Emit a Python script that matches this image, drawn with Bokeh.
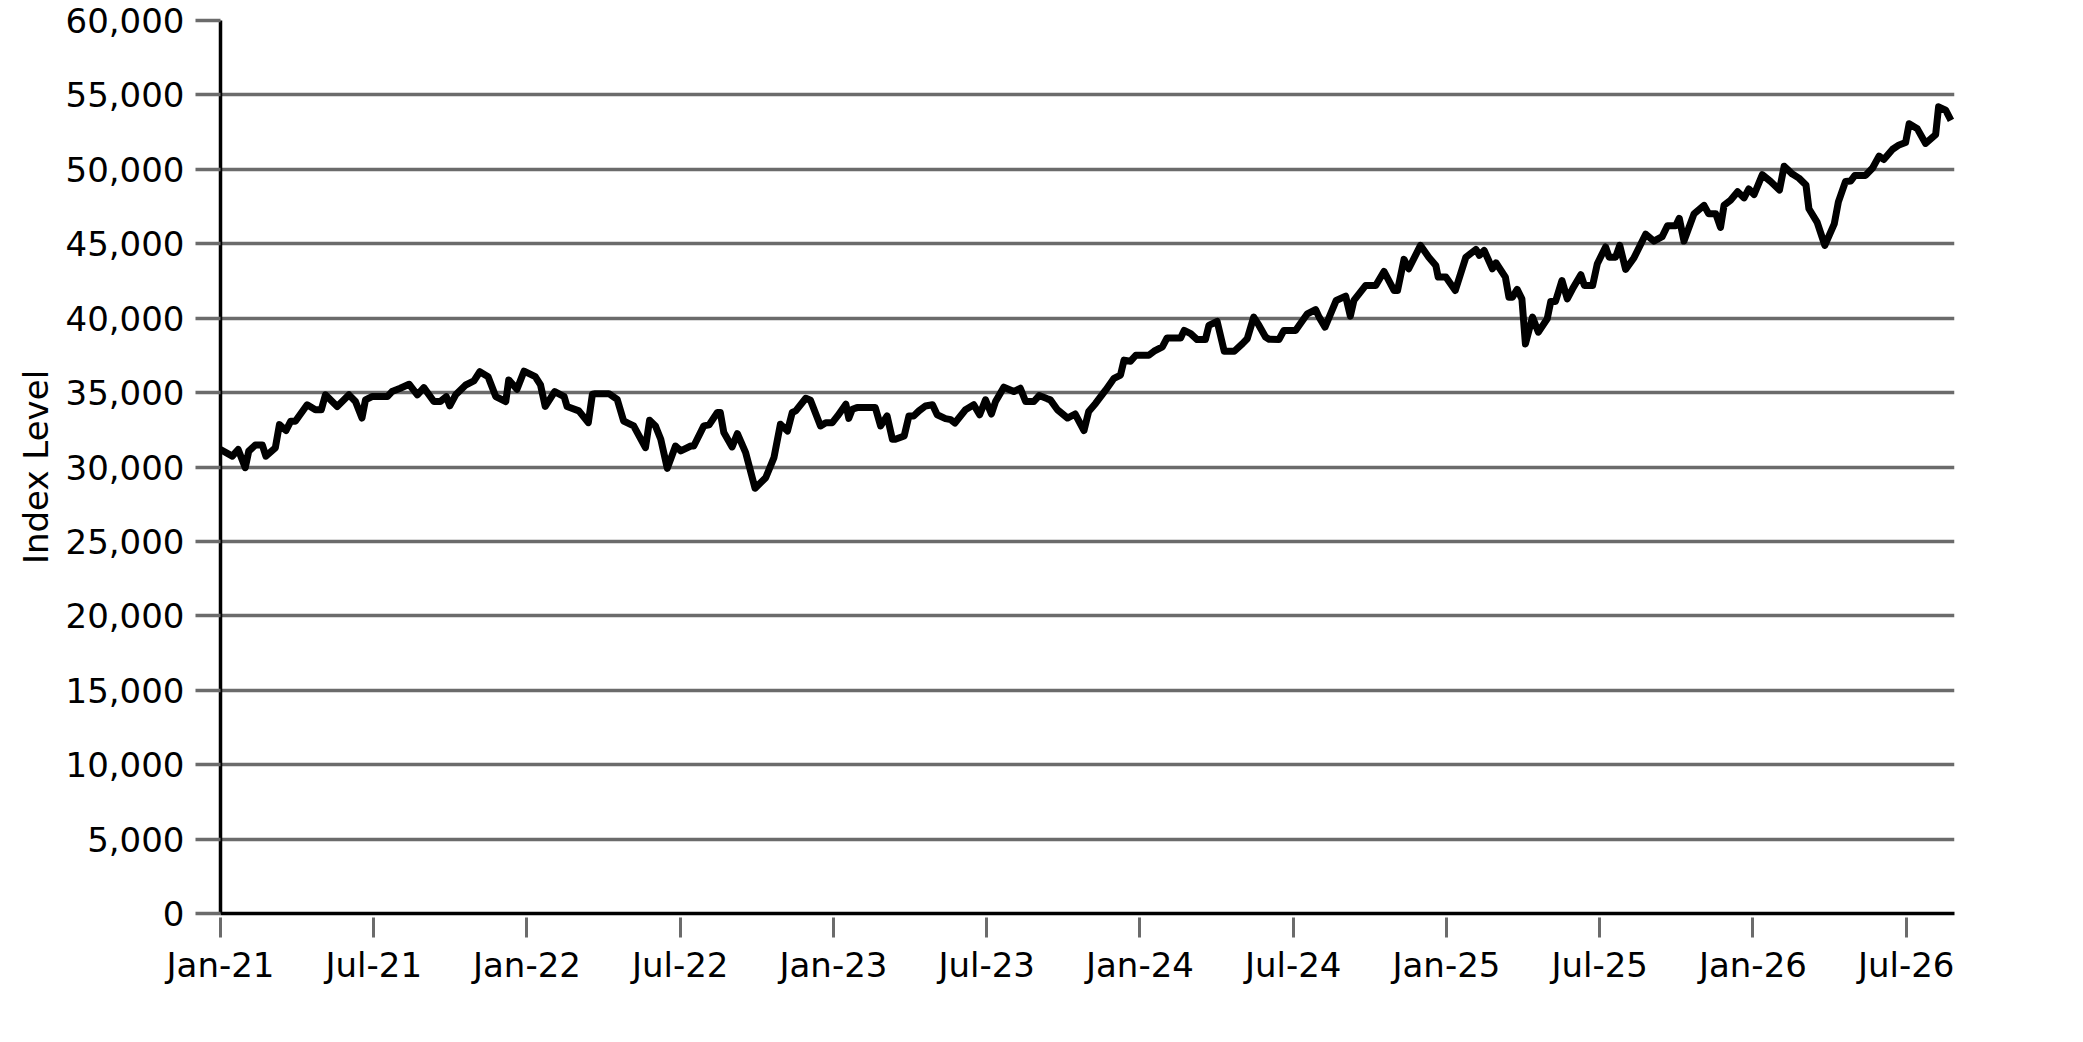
from bokeh.plotting import figure
from bokeh.models import Range1d, FixedTicker, NumeralTickFormatter
from bokeh.embed import file_html
from bokeh.resources import INLINE

# weekly index position (weeks since first observation) and index level
week = [0.0, 2.0, 3.0, 4.2, 4.8, 5.9, 7.1, 7.7, 9.3, 10.0, 11.1, 11.9, 12.7, 14.7, 16.1, 17.1,
        17.8, 19.8, 21.8, 22.9, 24.0, 24.6, 25.7, 28.3, 29.1, 30.5, 32.0, 33.4, 34.5, 36.2,
        37.3, 38.3, 38.9, 39.9, 41.6, 43.0, 44.0, 45.4, 46.7, 48.4, 48.9, 50.3, 51.5, 53.4,
        54.3, 55.1, 56.7, 58.3, 58.8, 60.8, 62.4, 63.1, 63.6, 65.9, 67.3, 68.4, 69.3, 70.1,
        72.1, 72.8, 73.8, 74.7, 75.8, 77.2, 78.1, 79.8, 80.3, 82.0, 82.9, 84.3, 84.8, 85.4,
        86.8, 87.7, 89.1, 90.7, 92.5, 93.9, 95.0, 96.2, 97.0, 97.6, 99.3, 100.1, 101.8, 102.7,
        103.8, 104.7, 106.1, 106.6, 107.2, 108.0, 111.1, 112.0, 113.1, 114.0, 114.5, 116.0,
        116.8, 117.6, 118.5, 119.6, 120.8, 121.6, 123.0, 123.9, 124.6, 126.4, 127.8, 128.8,
        129.8, 130.8, 131.5, 132.9, 134.6, 135.7, 136.6, 138.0, 138.9, 140.3, 140.8, 142.0,
        143.7, 145.0, 146.5, 147.3, 148.5, 150.2, 151.6, 152.7, 153.3, 154.4, 155.3, 157.5,
        158.4, 159.8, 160.6, 162.9, 163.5, 164.6, 165.7, 167.1, 167.7, 169.1, 170.3, 172.0,
        173.4, 174.2, 175.3, 176.2, 177.3, 177.9, 179.6, 180.4, 182.4, 184.4, 185.8, 186.4,
        187.4, 189.3, 190.9, 191.7, 192.3, 194.3, 196.0, 197.4, 199.1, 199.7, 200.8, 201.6,
        203.6, 205.0, 206.2, 206.6, 207.9, 209.5, 211.3, 213.0, 213.6, 214.4, 215.8, 216.4,
        218.0, 218.6, 219.2, 220.0, 220.8, 221.4, 222.6, 223.6, 225.1, 225.7, 226.5, 227.6,
        228.5, 229.4, 230.8, 231.4, 232.8, 233.6, 235.0, 235.6, 236.7, 237.4, 238.4, 239.8,
        241.8, 243.2, 244.6, 245.5, 246.9, 247.5, 248.3, 250.0, 251.7, 252.5, 253.7, 254.5,
        255.1, 256.2, 257.4, 258.5, 259.3, 260.2, 261.6, 263.0, 264.5, 265.3, 266.7, 267.8,
        269.0, 269.5, 270.9, 272.2, 273.8, 274.5, 275.7, 276.6, 277.3, 279.1, 280.3, 281.4,
        282.2, 283.7, 284.8, 285.9, 286.5, 287.9, 289.3, 291.0, 291.5, 292.7, 293.6]

index_level = [31180, 30730, 31180, 29950, 31070, 31470, 31470, 30730, 31290, 32850, 32450, 33070,
               33070, 34180, 33850, 33850, 34850, 34070, 34850, 34400, 33290, 34510, 34730, 34730,
               35070, 35290, 35560, 34850, 35330, 34400, 34400, 34730, 34110, 34850, 35510, 35780,
               36400, 36070, 34730, 34400, 35850, 35220, 36440, 36070, 35510, 34070, 35070, 34730,
               34070, 33770, 32980, 34890, 34930, 34930, 34550, 33090, 32920, 32760, 31300, 33140,
               32760, 31860, 29910, 31410, 31080, 31410, 31410, 32760, 32830, 33660, 33660, 32310,
               31350, 32240, 30960, 28570, 29280, 30630, 32870, 32420, 33660, 33770, 34620, 34480,
               32760, 32980, 32980, 33430, 34220, 33270, 33880, 33990, 33990, 32760, 33430, 31860,
               31860, 32090, 33430, 33430, 33770, 34100, 34180, 33510, 33250, 33180, 32960, 33850,
               34180, 33510, 34510, 33560, 34400, 35360, 35070, 35290, 34400, 34400, 34800, 34580,
               34510, 33850, 33290, 33560, 32450, 33730, 34290, 35180, 35960, 36180, 37180, 37110,
               37510, 37510, 37780, 38070, 38670, 38670, 39180, 38960, 38560, 38560, 39510, 39780,
               37780, 37780, 38290, 38620, 40070, 39510, 38730, 38580, 38570, 39170, 39170, 40290,
               40580, 40070, 39400, 41190, 41480, 40140, 41190, 42200, 42200, 43140, 41860, 41860,
               43950, 43320, 44890, 44100, 43540, 42760, 42760, 41860, 44100, 44620, 44220, 44550,
               43320, 43720, 42760, 41410, 41410, 41930, 41300, 38270, 40070, 39060, 39960, 41120,
               41120, 42530, 41300, 41970, 42920, 42200, 42200, 43660, 44780, 44100, 44100, 44890,
               43280, 44040, 45640, 45180, 45480, 46210, 46210, 46710, 45180, 47010, 47580, 47010,
               47010, 46100, 47580, 47920, 48490, 48080, 48680, 48310, 49640, 49180, 48610, 50210,
               49680, 49410, 48950, 47350, 46440, 44890, 46330, 47810, 49180, 49220, 49590, 49590,
               50090, 50890, 50660, 51350, 51640, 51800, 53060, 52720, 51740, 52330, 54200, 53970,
               53290]

tick_weeks = [0, 26, 52, 78, 104, 130, 156, 182, 208, 234, 260, 286]
tick_labels = ["Jan-21", "Jul-21", "Jan-22", "Jul-22", "Jan-23", "Jul-23",
               "Jan-24", "Jul-24", "Jan-25", "Jul-25", "Jan-26", "Jul-26"]
y_ticks = list(range(0, 60001, 5000))

FONT = "DejaVu Sans"
FONT_SIZE = "34px"
GRID = "#6b6b6b"

p = figure(width=2068, height=1028, output_backend="svg", toolbar_location=None,
           x_range=Range1d(0, 294.2), y_range=Range1d(0, 60000),
           min_border_left=220, min_border_right=114, min_border_top=20, min_border_bottom=115)
p.outline_line_color = None
p.background_fill_color = "white"

p.line(week, index_level, line_color="black", line_width=7, line_join="round")

p.xgrid.visible = False
p.ygrid.ticker = FixedTicker(ticks=y_ticks)
p.ygrid.grid_line_color = GRID
p.ygrid.grid_line_width = 3.5

xa = p.xaxis[0]
xa.ticker = FixedTicker(ticks=tick_weeks)
xa.major_label_overrides = {t: l for t, l in zip(tick_weeks, tick_labels)}
xa.minor_tick_line_color = None
xa.major_tick_line_color = GRID
xa.major_tick_line_width = 3
xa.major_tick_in = -4
xa.major_tick_out = 24
xa.axis_line_color = "black"
xa.axis_line_width = 3.5
xa.major_label_text_font = FONT
xa.major_label_text_font_size = FONT_SIZE
xa.major_label_text_color = "black"
xa.major_label_standoff = 7

ya = p.yaxis[0]
ya.ticker = FixedTicker(ticks=y_ticks)
ya.formatter = NumeralTickFormatter(format="0,0")
ya.minor_tick_line_color = None
ya.major_tick_line_color = GRID
ya.major_tick_line_width = 3.5
ya.major_tick_in = 0
ya.major_tick_out = 25
ya.axis_line_color = "black"
ya.axis_line_width = 3.5
ya.major_label_text_font = FONT
ya.major_label_text_font_size = FONT_SIZE
ya.major_label_text_color = "black"
ya.major_label_standoff = 11
ya.axis_label = "Index Level"
ya.axis_label_text_font = FONT
ya.axis_label_text_font_size = FONT_SIZE
ya.axis_label_text_font_style = "normal"
ya.axis_label_text_color = "black"
ya.axis_label_standoff = 7

open("out.html", "w").write(file_html(p, INLINE))
